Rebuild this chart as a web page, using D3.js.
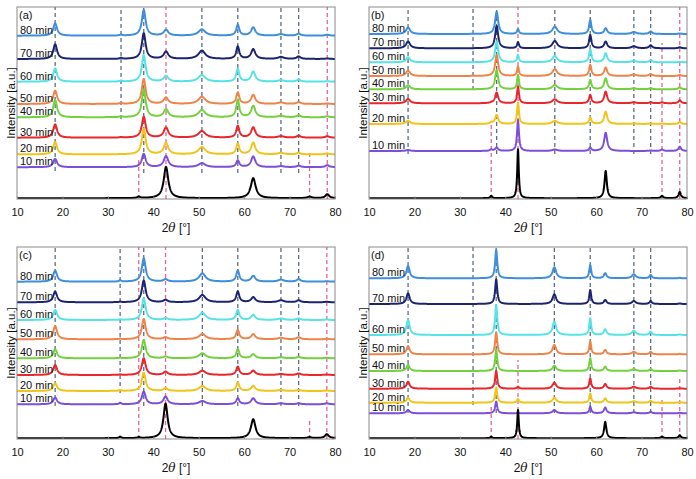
<!DOCTYPE html>
<html>
<head>
<meta charset="utf-8">
<script src="https://cdn.jsdelivr.net/npm/d3@7"></script>
<style>
  html, body { margin: 0; padding: 0; background: #fff; }
  svg { display: block; }
  text { font-family: "Liberation Sans", Arial, sans-serif; fill: #111; }
</style>
</head>
<body>
<svg id="chart" width="696" height="479"></svg>
<script>
// ---------------- DATA ----------------
const xTicks = [10, 20, 30, 40, 50, 60, 70, 80];
const seriesLabels = ["10 min", "20 min", "30 min", "40 min", "50 min", "60 min", "70 min", "80 min"];
const seriesColors = ["#7d4fd8", "#f0c419", "#e8262b", "#72d13c", "#ee8448", "#55e3e6", "#1c2470", "#3d8fdc"];
const refColor = "#000000";
const panelLabels = ["(a)", "(b)", "(c)", "(d)"];

// Panel (a)
const peaksA   = [18.4, 32.9, 36.8, 37.9, 42.8, 50.7, 58.6, 62.0, 68.1, 72.0, 74.4, 78.3];
const widthsA  = [1.0, 0.6, 0.6, 1.0, 1.2, 1.8, 0.8, 1.1, 1.5, 1.0, 1.0, 1.0];
const refWidthsA = [1.0, 0.6, 0.7, 1.0, 1.2, 1.8, 0.8, 1.3, 1.5, 1.0, 1.1, 1.0];
const refHeightsA = [0, 0, 1.5, 0, 31.3, 0, 0, 20, 0, 0, 1.5, 4];
const offsetsA = [31.8, 44.6, 61.3, 81.7, 95, 117.3, 140, 163.3];
const heightsA = [
  [8.3, 0, 0, 13.3, 11, 4, 6.7, 10.7, 1, 1.5, 0, 2],
  [12.3, 0, 0, 25.7, 11.3, 7.3, 10.7, 11.7, 1.5, 1.5, 0, 1],
  [13.3, 0.5, 0, 21, 10, 6.7, 11.7, 10.3, 1.5, 2, 0, 1.5],
  [17.3, 1, 0, 28, 8, 7.3, 17.3, 11.3, 1.5, 2, 0, 1],
  [13.3, 1, 0, 25, 6.3, 7.3, 11.3, 9, 1.5, 2, 0, 0.5],
  [13.3, 1, 0, 26.7, 5.7, 6.7, 12.7, 10, 1.5, 2, 0, 0.5],
  [14.7, 1, 0, 25.7, 7.3, 8.3, 12.3, 9.7, 2, 2.5, 0, 0.5],
  [12.3, 1, 0, 25.7, 5.7, 6.3, 10.7, 8.3, 1.5, 2, 0, 1]
];
const refLinesA = [
  {x: 18.4, y0: 28, y1: 192, c: "g"}, {x: 32.9, y0: 80, y1: 192, c: "g"},
  {x: 37.9, y0: 26, y1: 192, c: "g"}, {x: 50.7, y0: 26, y1: 192, c: "g"},
  {x: 58.6, y0: 26, y1: 192, c: "g"}, {x: 68.1, y0: 26, y1: 192, c: "g"},
  {x: 72.0, y0: 26, y1: 192, c: "g"},
  {x: 36.8, y0: 0, y1: 42, c: "p"}, {x: 42.8, y0: 0, y1: 192, c: "p"},
  {x: 74.4, y0: 0, y1: 49, c: "p"}, {x: 78.3, y0: 0, y1: 192, c: "p"}
];

// Panel (b)
const peaksB   = [18.6, 32.9, 36.9, 38.1, 42.8, 50.9, 58.7, 62.1, 68.3, 72.0, 74.5, 78.4];
const widthsB  = [1.1, 0.6, 0.6, 0.8, 0.5, 1.3, 0.6, 0.8, 1.2, 0.8, 0.7, 0.7];
const refWidthsB = [1.0, 0.5, 0.45, 0.7, 0.4, 1.2, 0.6, 0.6, 1.1, 0.8, 0.6, 0.6];
const refHeightsB = [0, 0, 2.5, 0, 49, 0, 0, 27.3, 0, 0, 2.3, 6.3];
const offsetsB = [48, 75, 95.7, 109.7, 123, 136.7, 150.7, 165];
const heightsB = [
  [1, 0, 1.5, 3.3, 31, 1.5, 3.3, 18.3, 0, 0.5, 1.5, 4.3],
  [3.3, 0, 1.5, 9, 21.3, 3.3, 6.7, 12.3, 0.5, 0.5, 0.5, 2],
  [4.3, 0, 0.5, 10.7, 16.7, 4, 8.3, 11.7, 1, 1, 1, 3],
  [4, 0, 0, 19.3, 14.3, 4.3, 9.3, 11, 1, 1, 0, 2],
  [5.3, 0, 0, 21, 9.3, 6.7, 11, 8.3, 1.5, 2, 0, 1],
  [5, 0, 0, 20.7, 7.3, 6.3, 13, 9, 1.5, 2, 0, 0.5],
  [6.7, 0, 0, 22.3, 6, 7.3, 13.3, 6.7, 2, 3, 0, 1],
  [6.3, 0, 0, 22.3, 4.7, 7.3, 14, 5.7, 2, 2.5, 0, 0.5]
];
const refLinesB = [
  {x: 18.6, y0: 45, y1: 192, c: "g"}, {x: 32.9, y0: 109, y1: 192, c: "g"},
  {x: 38.1, y0: 45, y1: 192, c: "g"}, {x: 50.9, y0: 45, y1: 192, c: "g"},
  {x: 58.7, y0: 45, y1: 192, c: "g"}, {x: 68.3, y0: 45, y1: 192, c: "g"},
  {x: 72.0, y0: 45, y1: 192, c: "g"},
  {x: 36.9, y0: 0, y1: 76, c: "p"}, {x: 42.8, y0: 0, y1: 192, c: "p"},
  {x: 74.5, y0: 0, y1: 156, c: "p"}, {x: 78.4, y0: 0, y1: 192, c: "p"}
];

// Panel (c)
const peaksC   = [18.4, 32.7, 36.8, 37.9, 42.7, 50.8, 58.6, 62.0, 68.1, 72.0, 74.4, 78.2];
const widthsC  = [1.0, 0.5, 0.6, 1.0, 1.1, 1.7, 0.8, 1.1, 1.5, 1.0, 1.0, 1.0];
const refWidthsC = [1.0, 0.5, 0.6, 1.0, 1.1, 1.7, 0.8, 1.2, 1.5, 1.0, 1.0, 1.0];
const refHeightsC = [0, 1.5, 1, 0, 34.7, 0, 0, 19, 0, 0, 1, 4];
const offsetsC = [34.7, 48, 64, 80.7, 99.7, 119, 136.7, 157.3];
const heightsC = [
  [6.7, 1.5, 0, 12.7, 7.7, 3.3, 6, 6, 1, 1, 0, 1],
  [7.7, 1, 0, 18.3, 2.7, 5, 8.3, 5, 1, 1, 0, 0.5],
  [10, 0.5, 0, 16.7, 3.3, 4.3, 8.3, 4.3, 1, 1.5, 0, 0.5],
  [9, 0.5, 0, 18.3, 1.7, 5, 9, 4, 1, 1.5, 0, 0.5],
  [13.3, 0.5, 0, 20.3, 2, 5.3, 9.3, 5, 1.5, 2, 0, 0.5],
  [10, 0.5, 0, 21.7, 1.7, 7.3, 10, 5, 1.5, 1.5, 0, 0.5],
  [10.7, 0.5, 0, 21.7, 2.3, 7.3, 10.7, 5, 2, 2, 0, 0.5],
  [11, 1.5, 0, 23.3, 2.3, 8.3, 11, 5.7, 2, 2.5, 0, 0.5]
];
const refLinesC = [
  {x: 18.4, y0: 33, y1: 192, c: "g"}, {x: 32.7, y0: 46, y1: 192, c: "g"},
  {x: 37.9, y0: 33, y1: 192, c: "g"}, {x: 50.8, y0: 33, y1: 192, c: "g"},
  {x: 58.6, y0: 33, y1: 192, c: "g"}, {x: 68.1, y0: 33, y1: 192, c: "g"},
  {x: 72.0, y0: 33, y1: 192, c: "g"},
  {x: 36.8, y0: 0, y1: 192, c: "p"}, {x: 42.7, y0: 0, y1: 192, c: "p"},
  {x: 74.4, y0: 0, y1: 19, c: "p"}, {x: 78.2, y0: 0, y1: 192, c: "p"}
];

// Panel (d)
const peaksD   = [18.6, 32.9, 36.9, 38.0, 42.8, 50.8, 58.7, 62.0, 68.3, 72.0, 74.5, 78.4];
const widthsD  = [0.85, 0.5, 0.5, 0.55, 0.5, 0.95, 0.5, 0.7, 1.0, 0.6, 0.6, 0.6];
const refWidthsD = [0.8, 0.4, 0.45, 0.5, 0.4, 0.9, 0.5, 0.6, 1.0, 0.6, 0.6, 0.6];
const refHeightsD = [0, 0, 1.5, 0, 28.3, 0, 0, 16.3, 0, 0, 1.5, 3];
const offsetsD = [25.7, 36.3, 50.3, 68, 84.7, 104, 135, 160.7];
const heightsD = [
  [3.3, 0, 0, 11.7, 0.5, 3.3, 6.7, 5.7, 1, 1.5, 0, 0.5],
  [5, 0, 0, 15, 3.7, 5, 9.3, 4.3, 1.5, 2, 0, 0.5],
  [7, 0, 0, 17.7, 2, 6, 10.3, 4.7, 2, 2, 0, 0.5],
  [6, 0, 0, 21, 0, 5.3, 12.7, 4.3, 2, 2, 0, 0.5],
  [8.3, 0, 0, 22, 0, 9.3, 12.7, 4.3, 2.5, 2.5, 0, 0.5],
  [15, 0, 0, 30, 0, 13.3, 16.7, 5.7, 4.3, 3.3, 0, 0.5],
  [10.7, 0, 0, 24.7, 0, 9.7, 14, 4, 3, 3, 0, 0.5],
  [12.3, 0, 0, 28.3, 0, 11, 13.3, 5, 4, 3.3, 0, 0.5]
];
const refLinesD = [
  {x: 18.6, y0: 26, y1: 192, c: "g"}, {x: 32.9, y0: 34, y1: 192, c: "g"},
  {x: 38.0, y0: 26, y1: 192, c: "g"}, {x: 50.8, y0: 26, y1: 192, c: "g"},
  {x: 58.7, y0: 26, y1: 192, c: "g"}, {x: 68.3, y0: 26, y1: 192, c: "g"},
  {x: 72.0, y0: 26, y1: 192, c: "g"},
  {x: 36.9, y0: 0, y1: 34, c: "p"}, {x: 42.8, y0: 0, y1: 79, c: "p"},
  {x: 74.5, y0: 0, y1: 41, c: "p"}, {x: 78.4, y0: 0, y1: 62, c: "p"}
];

const panels = [
  {peaks: peaksA, widths: widthsA, refWidths: refWidthsA, refHeights: refHeightsA, offsets: offsetsA, heights: heightsA, lines: refLinesA},
  {peaks: peaksB, widths: widthsB, refWidths: refWidthsB, refHeights: refHeightsB, offsets: offsetsB, heights: heightsB, lines: refLinesB},
  {peaks: peaksC, widths: widthsC, refWidths: refWidthsC, refHeights: refHeightsC, offsets: offsetsC, heights: heightsC, lines: refLinesC},
  {peaks: peaksD, widths: widthsD, refWidths: refWidthsD, refHeights: refHeightsD, offsets: offsetsD, heights: heightsD, lines: refLinesD}
];

// ---------------- LAYOUT ----------------
const boxes = [
  {x0: 17, x1: 335, y0: 7, y1: 199},
  {x0: 369, x1: 687, y0: 7, y1: 199},
  {x0: 17, x1: 335, y0: 247, y1: 439},
  {x0: 369, x1: 687, y0: 247, y1: 439}
];
const gridStep = 0.04;
const xs = d3.range(10, 80 + 1e-9, gridStep);

function profile(peaks, widths, heights, offset) {
  return xs.map(x => {
    let y = offset;
    for (let i = 0; i < peaks.length; i++) {
      const h = heights[i];
      if (!h) continue;
      const t = (x - peaks[i]) / (widths[i] / 2);
      y += h / (1 + t * t);
    }
    return [x, y];
  });
}

const svg = d3.select("#chart");

panels.forEach((p, pi) => {
  const b = boxes[pi];
  const x = d3.scaleLinear().domain([10, 80]).range([b.x0, b.x1]);
  const y = d3.scaleLinear().domain([0, 192]).range([b.y1, b.y0]);
  const g = svg.append("g");

  // reference dashed lines
  g.selectAll("line.ref").data(p.lines).join("line")
    .attr("class", "ref")
    .attr("x1", d => x(d.x)).attr("x2", d => x(d.x))
    .attr("y1", d => y(d.y0)).attr("y2", d => y(d.y1))
    .attr("stroke", d => d.c === "g" ? "#5e6e80" : "#e8629f")
    .attr("stroke-width", 1.3)
    .attr("stroke-dasharray", "4,3");

  const line = d3.line().x(d => x(d[0])).y(d => y(d[1]));
  const clipId = "clip" + pi;
  svg.append("clipPath").attr("id", clipId).append("rect")
    .attr("x", b.x0).attr("y", b.y0 - 2).attr("width", b.x1 - b.x0).attr("height", b.y1 - b.y0 + 2);
  const tg = g.append("g").attr("clip-path", `url(#${clipId})`);

  // series from top (80 min) to bottom (10 min)
  for (let s = p.offsets.length - 1; s >= 0; s--) {
    tg.append("path")
      .attr("d", line(profile(p.peaks, p.widths, p.heights[s], p.offsets[s])))
      .attr("fill", "none")
      .attr("stroke", seriesColors[s])
      .attr("stroke-width", 2)
      .attr("stroke-linejoin", "round");
  }
  // reference pattern
  tg.append("path")
    .attr("d", line(profile(p.peaks, p.refWidths, p.refHeights, 0.8)))
    .attr("fill", "none")
    .attr("stroke", refColor)
    .attr("stroke-width", 2)
    .attr("stroke-linejoin", "round");

  // series labels
  g.selectAll("text.lab").data(seriesLabels).join("text")
    .attr("class", "lab")
    .attr("x", b.x0 + 3)
    .attr("y", (d, i) => y(p.offsets[i]) - 2)
    .attr("font-size", 11)
    .text(d => d);

  // frame
  g.append("rect")
    .attr("x", b.x0).attr("y", b.y0)
    .attr("width", b.x1 - b.x0).attr("height", b.y1 - b.y0)
    .attr("fill", "none").attr("stroke", "#8a8a8a").attr("stroke-width", 1);

  // x axis
  const ax = g.append("g").attr("transform", `translate(0,${b.y1})`)
    .call(d3.axisBottom(x).tickValues(xTicks).tickSize(-2.5).tickPadding(9).tickFormat(d3.format("d")));
  ax.select(".domain").remove();
  ax.selectAll(".tick line").attr("stroke", "#8a8a8a");
  ax.selectAll(".tick text").attr("font-size", 11).attr("fill", "#111")
    .attr("font-family", "'Liberation Sans', Arial, sans-serif");

  // panel label
  g.append("text").attr("x", b.x0 + 2).attr("y", b.y0 + 12)
    .attr("font-size", 11).text(panelLabels[pi]);

  // x axis title
  const xt = g.append("text").attr("x", (b.x0 + b.x1) / 2).attr("y", b.y1 + 33)
    .attr("text-anchor", "middle").attr("font-size", 12);
  xt.append("tspan").text("2");
  xt.append("tspan").attr("font-style", "italic").attr("font-family", "'DejaVu Serif', serif").text("θ");
  xt.append("tspan").text(" [°]");

  // y axis title
  g.append("text")
    .attr("transform", `translate(${b.x0 - 2},${(b.y0 + b.y1) / 2}) rotate(-90)`)
    .attr("text-anchor", "middle")
    .attr("font-size", 11.5)
    .text("Intensity [a.u.]");
});
</script>
</body>
</html>
